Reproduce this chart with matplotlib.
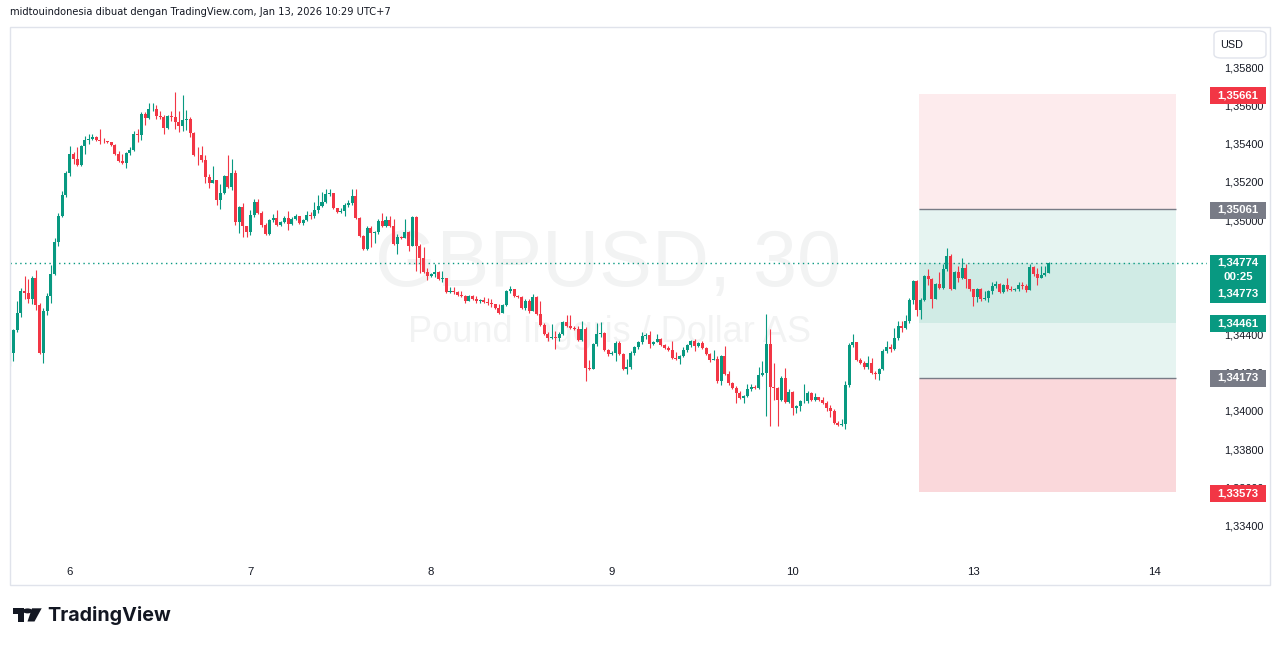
import numpy as np
import matplotlib
matplotlib.use("Agg")
import matplotlib.pyplot as plt
from matplotlib.patches import Rectangle, FancyBboxPatch, Polygon, Circle
from matplotlib.ticker import FuncFormatter

# GBPUSD 30m candles (open of each bar = previous close)
first_open = 1.34252
closes = [
    1.34304, 1.34424, 1.34514, 1.34629, 1.34618, 1.34587, 1.34697, 1.34555, 1.34304, 1.34524,
    1.34603, 1.34718, 1.34886, 1.35022, 1.35132, 1.35247, 1.35347, 1.35320, 1.35289, 1.35389,
    1.35420, 1.35425, 1.35436, 1.35420, 1.35417, 1.35415, 1.35410, 1.35394, 1.35347, 1.35310,
    1.35300, 1.35352, 1.35368, 1.35451, 1.35446, 1.35556, 1.35535, 1.35582, 1.35584, 1.35546,
    1.35543, 1.35483, 1.35546, 1.35541, 1.35514, 1.35493, 1.35525, 1.35530, 1.35457, 1.35341,
    1.35339, 1.35315, 1.35226, 1.35195, 1.35210, 1.35106, 1.35142, 1.35231, 1.35174, 1.35247,
    1.34990, 1.35069, 1.34969, 1.34938, 1.35027, 1.35095, 1.35038, 1.34975, 1.34928, 1.35001,
    1.35011, 1.34975, 1.34990, 1.35011, 1.34980, 1.35006, 1.35022, 1.34985, 1.35001, 1.35027,
    1.35022, 1.35053, 1.35074, 1.35095, 1.35137, 1.35142, 1.35064, 1.35043, 1.35048, 1.35079,
    1.35090, 1.35127, 1.35011, 1.34917, 1.34849, 1.34959, 1.34933, 1.34938, 1.34996, 1.34969,
    1.35001, 1.34969, 1.34875, 1.34912, 1.34907, 1.34938, 1.34865, 1.35017, 1.34865, 1.34802,
    1.34728, 1.34707, 1.34718, 1.34728, 1.34692, 1.34697, 1.34624, 1.34629, 1.34624, 1.34608,
    1.34603, 1.34576, 1.34603, 1.34587, 1.34576, 1.34582, 1.34571, 1.34566, 1.34561, 1.34540,
    1.34514, 1.34555, 1.34629, 1.34639, 1.34603, 1.34597, 1.34540, 1.34576, 1.34524, 1.34597,
    1.34508, 1.34451, 1.34403, 1.34382, 1.34388, 1.34382, 1.34403, 1.34466, 1.34445, 1.34435,
    1.34432, 1.34372, 1.34430, 1.34225, 1.34220, 1.34351, 1.34403, 1.34409, 1.34320, 1.34299,
    1.34304, 1.34356, 1.34299, 1.34220, 1.34231, 1.34304, 1.34335, 1.34362, 1.34393, 1.34398,
    1.34351, 1.34362, 1.34377, 1.34346, 1.34330, 1.34320, 1.34278, 1.34275, 1.34288, 1.34320,
    1.34346, 1.34367, 1.34341, 1.34356, 1.34330, 1.34299, 1.34267, 1.34272, 1.34157, 1.34288,
    1.34194, 1.34147, 1.34121, 1.34094, 1.34068, 1.34079, 1.34115, 1.34126, 1.34121, 1.34189,
    1.34199, 1.34351, 1.34126, 1.34121, 1.34058, 1.34173, 1.34047, 1.34100, 1.34016, 1.34026,
    1.34052, 1.34055, 1.34094, 1.34058, 1.34073, 1.34058, 1.34042, 1.34016, 1.34000, 1.33937,
    1.33927, 1.33932, 1.34136, 1.34346, 1.34362, 1.34267, 1.34252, 1.34231, 1.34252, 1.34199,
    1.34196, 1.34220, 1.34314, 1.34335, 1.34325, 1.34382, 1.34445, 1.34435, 1.34472, 1.34582,
    1.34681, 1.34529, 1.34582, 1.34707, 1.34692, 1.34587, 1.34665, 1.34645, 1.34744, 1.34812,
    1.34639, 1.34728, 1.34697, 1.34749, 1.34692, 1.34639, 1.34597, 1.34639, 1.34587, 1.34592,
    1.34629, 1.34655, 1.34665, 1.34624, 1.34660, 1.34639, 1.34634, 1.34639, 1.34660, 1.34655,
    1.34634, 1.34755, 1.34718, 1.34697, 1.34713, 1.34723, 1.34774,
]
highs = [
    1.34314, 1.34430, 1.34576, 1.34645, 1.34707, 1.34692, 1.34707, 1.34739, 1.34566, 1.34540,
    1.34618, 1.34765, 1.34907, 1.35038, 1.35153, 1.35258, 1.35389, 1.35357, 1.35383, 1.35394,
    1.35441, 1.35451, 1.35451, 1.35441, 1.35478, 1.35431, 1.35415, 1.35410, 1.35399, 1.35362,
    1.35347, 1.35357, 1.35383, 1.35467, 1.35478, 1.35567, 1.35567, 1.35614, 1.35614, 1.35603,
    1.35572, 1.35551, 1.35551, 1.35572, 1.35672, 1.35572, 1.35656, 1.35577, 1.35541, 1.35462,
    1.35383, 1.35389, 1.35341, 1.35242, 1.35284, 1.35210, 1.35190, 1.35237, 1.35341, 1.35320,
    1.35263, 1.35074, 1.35090, 1.34969, 1.35053, 1.35111, 1.35111, 1.35048, 1.34985, 1.35006,
    1.35032, 1.35053, 1.34996, 1.35022, 1.35048, 1.35017, 1.35032, 1.35022, 1.35006, 1.35048,
    1.35043, 1.35095, 1.35132, 1.35148, 1.35163, 1.35163, 1.35142, 1.35064, 1.35064, 1.35090,
    1.35106, 1.35163, 1.35163, 1.35017, 1.34922, 1.34969, 1.34969, 1.34943, 1.35006, 1.35038,
    1.35022, 1.35022, 1.35006, 1.34928, 1.34917, 1.35006, 1.34943, 1.35022, 1.35022, 1.34875,
    1.34859, 1.34749, 1.34723, 1.34770, 1.34734, 1.34734, 1.34697, 1.34650, 1.34650, 1.34629,
    1.34629, 1.34608, 1.34608, 1.34608, 1.34603, 1.34587, 1.34597, 1.34592, 1.34587, 1.34561,
    1.34561, 1.34561, 1.34634, 1.34655, 1.34634, 1.34608, 1.34603, 1.34587, 1.34587, 1.34613,
    1.34603, 1.34576, 1.34461, 1.34414, 1.34456, 1.34419, 1.34414, 1.34472, 1.34503, 1.34503,
    1.34445, 1.34445, 1.34472, 1.34440, 1.34267, 1.34356, 1.34461, 1.34466, 1.34414, 1.34325,
    1.34314, 1.34367, 1.34367, 1.34304, 1.34272, 1.34314, 1.34341, 1.34367, 1.34414, 1.34409,
    1.34419, 1.34367, 1.34403, 1.34382, 1.34351, 1.34341, 1.34367, 1.34309, 1.34293, 1.34335,
    1.34351, 1.34372, 1.34377, 1.34362, 1.34367, 1.34335, 1.34304, 1.34320, 1.34288, 1.34293,
    1.34341, 1.34210, 1.34152, 1.34131, 1.34105, 1.34084, 1.34141, 1.34141, 1.34136, 1.34231,
    1.34262, 1.34508, 1.34430, 1.34252, 1.34126, 1.34183, 1.34225, 1.34115, 1.34105, 1.34031,
    1.34058, 1.34141, 1.34105, 1.34100, 1.34094, 1.34073, 1.34073, 1.34052, 1.34031, 1.34010,
    1.33948, 1.33958, 1.34157, 1.34356, 1.34403, 1.34362, 1.34278, 1.34262, 1.34288, 1.34278,
    1.34210, 1.34225, 1.34325, 1.34367, 1.34351, 1.34435, 1.34472, 1.34472, 1.34503, 1.34592,
    1.34686, 1.34686, 1.34592, 1.34713, 1.34744, 1.34697, 1.34671, 1.34728, 1.34770, 1.34854,
    1.34823, 1.34734, 1.34760, 1.34802, 1.34770, 1.34692, 1.34639, 1.34645, 1.34645, 1.34629,
    1.34634, 1.34676, 1.34681, 1.34671, 1.34665, 1.34697, 1.34655, 1.34645, 1.34676, 1.34676,
    1.34665, 1.34770, 1.34760, 1.34749, 1.34760, 1.34760, 1.34781,
]
lows = [
    1.34236, 1.34262, 1.34414, 1.34493, 1.34587, 1.34566, 1.34561, 1.34529, 1.34299, 1.34252,
    1.34503, 1.34566, 1.34713, 1.34865, 1.35017, 1.35121, 1.35231, 1.35294, 1.35284, 1.35284,
    1.35347, 1.35399, 1.35420, 1.35415, 1.35399, 1.35404, 1.35404, 1.35389, 1.35341, 1.35305,
    1.35294, 1.35273, 1.35341, 1.35362, 1.35410, 1.35420, 1.35499, 1.35530, 1.35572, 1.35530,
    1.35530, 1.35451, 1.35478, 1.35520, 1.35478, 1.35462, 1.35467, 1.35472, 1.35436, 1.35336,
    1.35289, 1.35305, 1.35195, 1.35169, 1.35195, 1.35079, 1.35058, 1.35137, 1.35169, 1.35158,
    1.34975, 1.34933, 1.34912, 1.34912, 1.34922, 1.35017, 1.35032, 1.34964, 1.34922, 1.34922,
    1.34990, 1.34969, 1.34969, 1.34985, 1.34948, 1.34975, 1.35001, 1.34980, 1.34975, 1.34996,
    1.35006, 1.35011, 1.35038, 1.35069, 1.35090, 1.35127, 1.35058, 1.35038, 1.35038, 1.35022,
    1.35069, 1.35079, 1.35006, 1.34912, 1.34844, 1.34844, 1.34859, 1.34880, 1.34928, 1.34964,
    1.34964, 1.34964, 1.34870, 1.34823, 1.34901, 1.34907, 1.34838, 1.34865, 1.34734, 1.34723,
    1.34723, 1.34686, 1.34702, 1.34702, 1.34686, 1.34676, 1.34618, 1.34618, 1.34613, 1.34603,
    1.34597, 1.34566, 1.34587, 1.34582, 1.34566, 1.34566, 1.34566, 1.34555, 1.34545, 1.34534,
    1.34508, 1.34519, 1.34550, 1.34618, 1.34597, 1.34592, 1.34534, 1.34529, 1.34514, 1.34534,
    1.34503, 1.34445, 1.34398, 1.34367, 1.34377, 1.34325, 1.34367, 1.34398, 1.34440, 1.34430,
    1.34424, 1.34367, 1.34367, 1.34157, 1.34215, 1.34220, 1.34341, 1.34388, 1.34314, 1.34288,
    1.34293, 1.34262, 1.34293, 1.34215, 1.34194, 1.34220, 1.34293, 1.34325, 1.34351, 1.34377,
    1.34330, 1.34346, 1.34362, 1.34341, 1.34325, 1.34314, 1.34272, 1.34267, 1.34246, 1.34283,
    1.34309, 1.34335, 1.34314, 1.34335, 1.34325, 1.34293, 1.34257, 1.34267, 1.34147, 1.34136,
    1.34189, 1.34136, 1.34115, 1.34042, 1.34063, 1.34042, 1.34073, 1.34105, 1.34115, 1.34115,
    1.34183, 1.33974, 1.33921, 1.34058, 1.33921, 1.34052, 1.34042, 1.34042, 1.33979, 1.33990,
    1.34000, 1.34042, 1.34042, 1.34052, 1.34052, 1.34052, 1.34037, 1.34000, 1.33969, 1.33932,
    1.33921, 1.33921, 1.33906, 1.34126, 1.34335, 1.34262, 1.34246, 1.34220, 1.34220, 1.34194,
    1.34168, 1.34162, 1.34215, 1.34304, 1.34309, 1.34320, 1.34372, 1.34414, 1.34430, 1.34461,
    1.34561, 1.34498, 1.34482, 1.34576, 1.34660, 1.34540, 1.34587, 1.34639, 1.34639, 1.34734,
    1.34634, 1.34639, 1.34676, 1.34692, 1.34645, 1.34629, 1.34550, 1.34571, 1.34576, 1.34582,
    1.34571, 1.34613, 1.34645, 1.34618, 1.34618, 1.34629, 1.34629, 1.34629, 1.34629, 1.34639,
    1.34624, 1.34634, 1.34707, 1.34660, 1.34697, 1.34707, 1.34723,
]

day_labels = ["6", "7", "8", "9", "10", "13", "14"]
day_bars = [16, 64, 112, 160, 208, 256, 304]

# 1,34600 and 1,34800 sit fully under the live-price label, so they are left out
price_ticks = [1.334, 1.336, 1.338, 1.340, 1.342, 1.344,
               1.350, 1.352, 1.354, 1.356, 1.358]

# position tool levels
target_hi = 1.35661
entry_hi = 1.35061
entry_lo = 1.34461
stop_lo = 1.34173
target_lo = 1.33573
last_price = 1.34774
tool_start, tool_end = 241.6, 309.8

GREEN = "#089981"
RED = "#f23645"
GRAY = "#787b86"
TEXT = "#131722"

W, H = 1281, 646


def fx(px):
    return px / W


def fy(py):
    return 1 - py / H


fig = plt.figure(figsize=(W / 100, H / 100), dpi=100)
fig.patch.set_facecolor("white")

ax = fig.add_axes([fx(10), fy(560), fx(1207) - fx(10), fy(27) - fy(560)])
ax.set_facecolor("white")
for s in ax.spines.values():
    s.set_visible(False)

closes = np.array(closes)
highs = np.array(highs)
lows = np.array(lows)
opens = np.r_[first_open, closes[:-1]]
x = np.arange(len(closes))
up = closes >= opens
colors = np.where(up, GREEN, RED)
body_low = np.minimum(opens, closes)
body_h = np.maximum(np.abs(closes - opens), 0.00002)
highs = np.maximum(highs, np.maximum(opens, closes))
lows = np.minimum(lows, np.minimum(opens, closes))

# position tool zones
ax.add_patch(Rectangle((tool_start, entry_hi), tool_end - tool_start, target_hi - entry_hi,
                       facecolor="#fdebed", edgecolor="none", zorder=1))
ax.add_patch(Rectangle((tool_start, stop_lo), tool_end - tool_start, entry_hi - stop_lo,
                       facecolor="#e6f4f1", edgecolor="none", zorder=1))
ax.add_patch(Rectangle((tool_start, entry_lo), tool_end - tool_start, last_price - entry_lo,
                       facecolor="#d0ebe5", edgecolor="none", zorder=1.1))
ax.add_patch(Rectangle((tool_start, target_lo), tool_end - tool_start, stop_lo - target_lo,
                       facecolor="#fad8db", edgecolor="none", zorder=1))
ax.hlines([entry_hi, stop_lo], tool_start, tool_end, colors=GRAY, lw=1.0, zorder=1.5)

# watermark
ax.text(fx(608), fy(266), "GBPUSD, 30", transform=fig.transFigure, ha="center", va="center",
        fontsize=57, family="Liberation Sans", color=TEXT, alpha=0.05, zorder=0.5)
ax.text(fx(609), fy(333), "Pound Inggris / Dollar AS", transform=fig.transFigure,
        ha="center", va="center", fontsize=26, family="Liberation Sans", color=TEXT,
        alpha=0.05, zorder=0.5)

ax.axhline(last_price, color=GREEN, lw=1.0, linestyle=(0, (1, 2.5)), zorder=2)

ax.vlines(x, lows, highs, colors=colors, lw=0.8, zorder=3)
ax.bar(x, body_h, bottom=body_low, width=0.8, color=colors, linewidth=0, zorder=4)

ax.set_xlim((10 - 9.5) / 3.765, (1207 - 9.5) / 3.765)
ax.set_ylim(1.34 + (411 - 560) * 0.0000524, 1.34 + (411 - 27) * 0.0000524)

ax.set_xticks(day_bars)
ax.set_xticklabels(day_labels)
ax.yaxis.tick_right()
ax.set_yticks(price_ticks)
ax.yaxis.set_major_formatter(FuncFormatter(lambda v, p: f"{v:.5f}".replace(".", ",")))
ax.tick_params(axis="both", length=0, labelsize=7.8, colors=TEXT)
ax.tick_params(axis="y", pad=12)
ax.tick_params(axis="x", pad=5, labelsize=8.2)
for lab in ax.get_xticklabels() + ax.get_yticklabels():
    lab.set_family("Liberation Sans")

# chart frame
fig.add_artist(Rectangle((fx(10), fy(585)), fx(1270) - fx(10), fy(27) - fy(585),
                         transform=fig.transFigure, fill=False, edgecolor="#e0e3eb", lw=1))

# price labels on the scale
def price_box(yc, h, color, lines):
    fig.add_artist(Rectangle((fx(1210), fy(yc + h / 2)), fx(1266) - fx(1210), h / H,
                             transform=fig.transFigure, facecolor=color, edgecolor="none",
                             zorder=5))
    for text, ty in lines:
        fig.text(fx(1238), fy(ty), text, ha="center", va="center", color="white",
                 fontsize=8.2, fontweight="bold", family="Liberation Sans", zorder=6)


fmt = lambda v: f"{v:.5f}".replace(".", ",")
price_box(95.5, 17, RED, [(fmt(target_hi), 95.5)])
price_box(210, 17, GRAY, [(fmt(entry_hi), 210)])
price_box(279, 48, GREEN, [(fmt(last_price), 262.5), ("00:25", 276.5), ("1,34773", 293.5)])
price_box(323.5, 17, GREEN, [(fmt(entry_lo), 323.5)])
price_box(378, 17, GRAY, [(fmt(stop_lo), 378)])
price_box(493.5, 17, RED, [(fmt(target_lo), 493.5)])

# currency button
fig.add_artist(FancyBboxPatch((fx(1214), fy(58)), fx(1266) - fx(1214), 27 / H,
                              boxstyle="round,pad=0,rounding_size=0.006",
                              transform=fig.transFigure, facecolor="white",
                              edgecolor="#e0e3eb", lw=1, zorder=5))
fig.text(fx(1232), fy(44.5), "USD", ha="center", va="center", fontsize=7.8,
         family="Liberation Sans", color=TEXT, zorder=6)

# header
fig.text(fx(10), fy(12), "midtouindonesia dibuat dengan TradingView.com, Jan 13, 2026 10:29 UTC+7",
         ha="left", va="center", fontsize=7.15, family="DejaVu Sans", color=TEXT)

# TradingView logo
logo = "#131722"
fig.add_artist(Polygon([(fx(12.7), fy(608.3)), (fx(24), fy(608.3)), (fx(24), fy(621.5)),
                        (fx(18.3), fy(621.5)), (fx(18.3), fy(613.5)), (fx(12.7), fy(613.5))],
                       closed=True, transform=fig.transFigure, facecolor=logo, edgecolor="none"))
fig.add_artist(Circle((fx(27.6), fy(610.9)), 2.5 / H, transform=fig.transFigure,
                      facecolor=logo, edgecolor="none"))
fig.add_artist(Polygon([(fx(32), fy(608.3)), (fx(41.7), fy(608.3)), (fx(34.5), fy(621.5)),
                        (fx(27.5), fy(621.5))],
                       closed=True, transform=fig.transFigure, facecolor=logo, edgecolor="none"))
fig.text(fx(47.5), fy(615.5), "TradingView", ha="left", va="center", fontsize=14.2,
         fontweight="bold", family="Inter", color=logo)

fig.savefig("out.png", dpi=100, facecolor="white")
